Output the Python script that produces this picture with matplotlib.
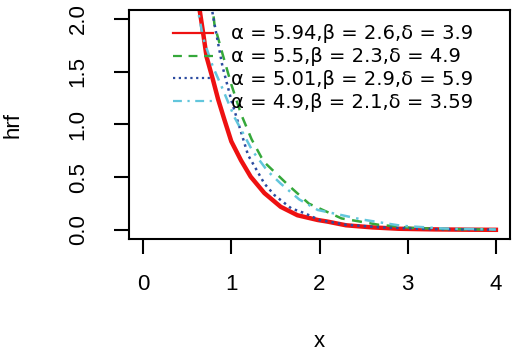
import matplotlib
matplotlib.use("Agg")
import matplotlib.pyplot as plt

plt.rcParams['font.family'] = ['Liberation Sans', 'DejaVu Sans']

red_x = [0.60, 0.64, 0.68, 0.72, 0.79, 0.85, 0.92, 1.00, 1.11, 1.22, 1.375, 1.56, 1.75, 1.98, 2.09, 2.30, 2.60, 2.90, 3.30, 3.70, 4.00]
red_y = [2.35, 2.09, 1.87, 1.64, 1.43, 1.24, 1.05, 0.84, 0.66, 0.505, 0.35, 0.22, 0.14, 0.095, 0.08, 0.045, 0.025, 0.012, 0.006, 0.003, 0.002]

green_x = [0.77, 0.81, 0.90, 1.00, 1.11, 1.23, 1.34, 1.39, 1.64, 1.88, 2.25, 2.67, 3.05, 3.50, 4.00]
green_y = [2.25, 1.94, 1.67, 1.38, 1.10, 0.86, 0.69, 0.63, 0.43, 0.25, 0.11, 0.05, 0.02, 0.008, 0.004]

blue_x = [0.76, 0.79, 0.83, 0.90, 1.00, 1.15, 1.19, 1.30, 1.375, 1.49, 1.68, 1.83, 2.00, 2.30, 2.70, 3.20, 3.60, 4.00]
blue_y = [2.25, 2.04, 1.86, 1.55, 1.23, 0.82, 0.71, 0.55, 0.44, 0.33, 0.205, 0.16, 0.095, 0.05, 0.025, 0.01, 0.005, 0.003]

cyan_x = [0.58, 0.62, 0.68, 0.79, 0.885, 0.96, 1.035, 1.17, 1.24, 1.41, 1.56, 1.77, 1.98, 2.48, 2.93, 3.40, 4.00]
cyan_y = [2.35, 2.09, 1.82, 1.55, 1.37, 1.22, 1.07, 0.86, 0.75, 0.56, 0.44, 0.29, 0.19, 0.10, 0.04, 0.015, 0.005]

labels = ["α = 5.94,β = 2.6,δ = 3.9",
          "α = 5.5,β = 2.3,δ = 4.9",
          "α = 5.01,β = 2.9,δ = 5.9",
          "α = 4.9,β = 2.1,δ = 3.59"]

x_ticks = [0, 1, 2, 3, 4]
y_ticks = [0.0, 0.5, 1.0, 1.5, 2.0]
y_ticklabels = ["0.0", "0.5", "1.0", "1.5", "2.0"]

fig = plt.figure(figsize=(5.13, 3.51), dpi=100)
ax = fig.add_axes([129/513, 1-239/351, (510-129)/513, (239-10)/351])

ax.plot(red_x, red_y, color="#EE1111", lw=3.2, ls="-", label=labels[0])
ax.plot(green_x, green_y, color="#35A83A", lw=1.8, ls=(0, (4, 3)), label=labels[1])
ax.plot(blue_x, blue_y, color="#2B4BA0", lw=1.8, ls=(0, (1, 1.6)), label=labels[2])
ax.plot(cyan_x, cyan_y, color="#62C6DC", lw=1.8, ls=(0, (4, 2.5, 1, 2.5)), label=labels[3])

ax.set_xlim(-0.16, 4.16)
ax.set_ylim(-0.085, 2.085)
ax.set_xticks(x_ticks)
ax.set_yticks(y_ticks)
ax.set_yticklabels(y_ticklabels, rotation=90, va="center")
ax.tick_params(axis="both", length=11, width=1.5, labelsize=16, color="black")
ax.tick_params(axis="x", pad=14)
ax.tick_params(axis="y", pad=18)
for s in ax.spines.values():
    s.set_linewidth(1.5)

ax.set_xlabel("x", fontsize=16, labelpad=26)
ax.set_ylabel("hrf", fontsize=16, labelpad=32)

leg = ax.legend(loc="upper left", bbox_to_anchor=(0.1155, 0.937), frameon=False,
                prop={"family": "DejaVu Sans", "size": 14},
                handlelength=2.06, handletextpad=0.9, labelspacing=0.2,
                borderaxespad=0, borderpad=0)
for ln in leg.get_lines():
    ln.set_linewidth(1.6)

fig.savefig("out.png", dpi=100)
